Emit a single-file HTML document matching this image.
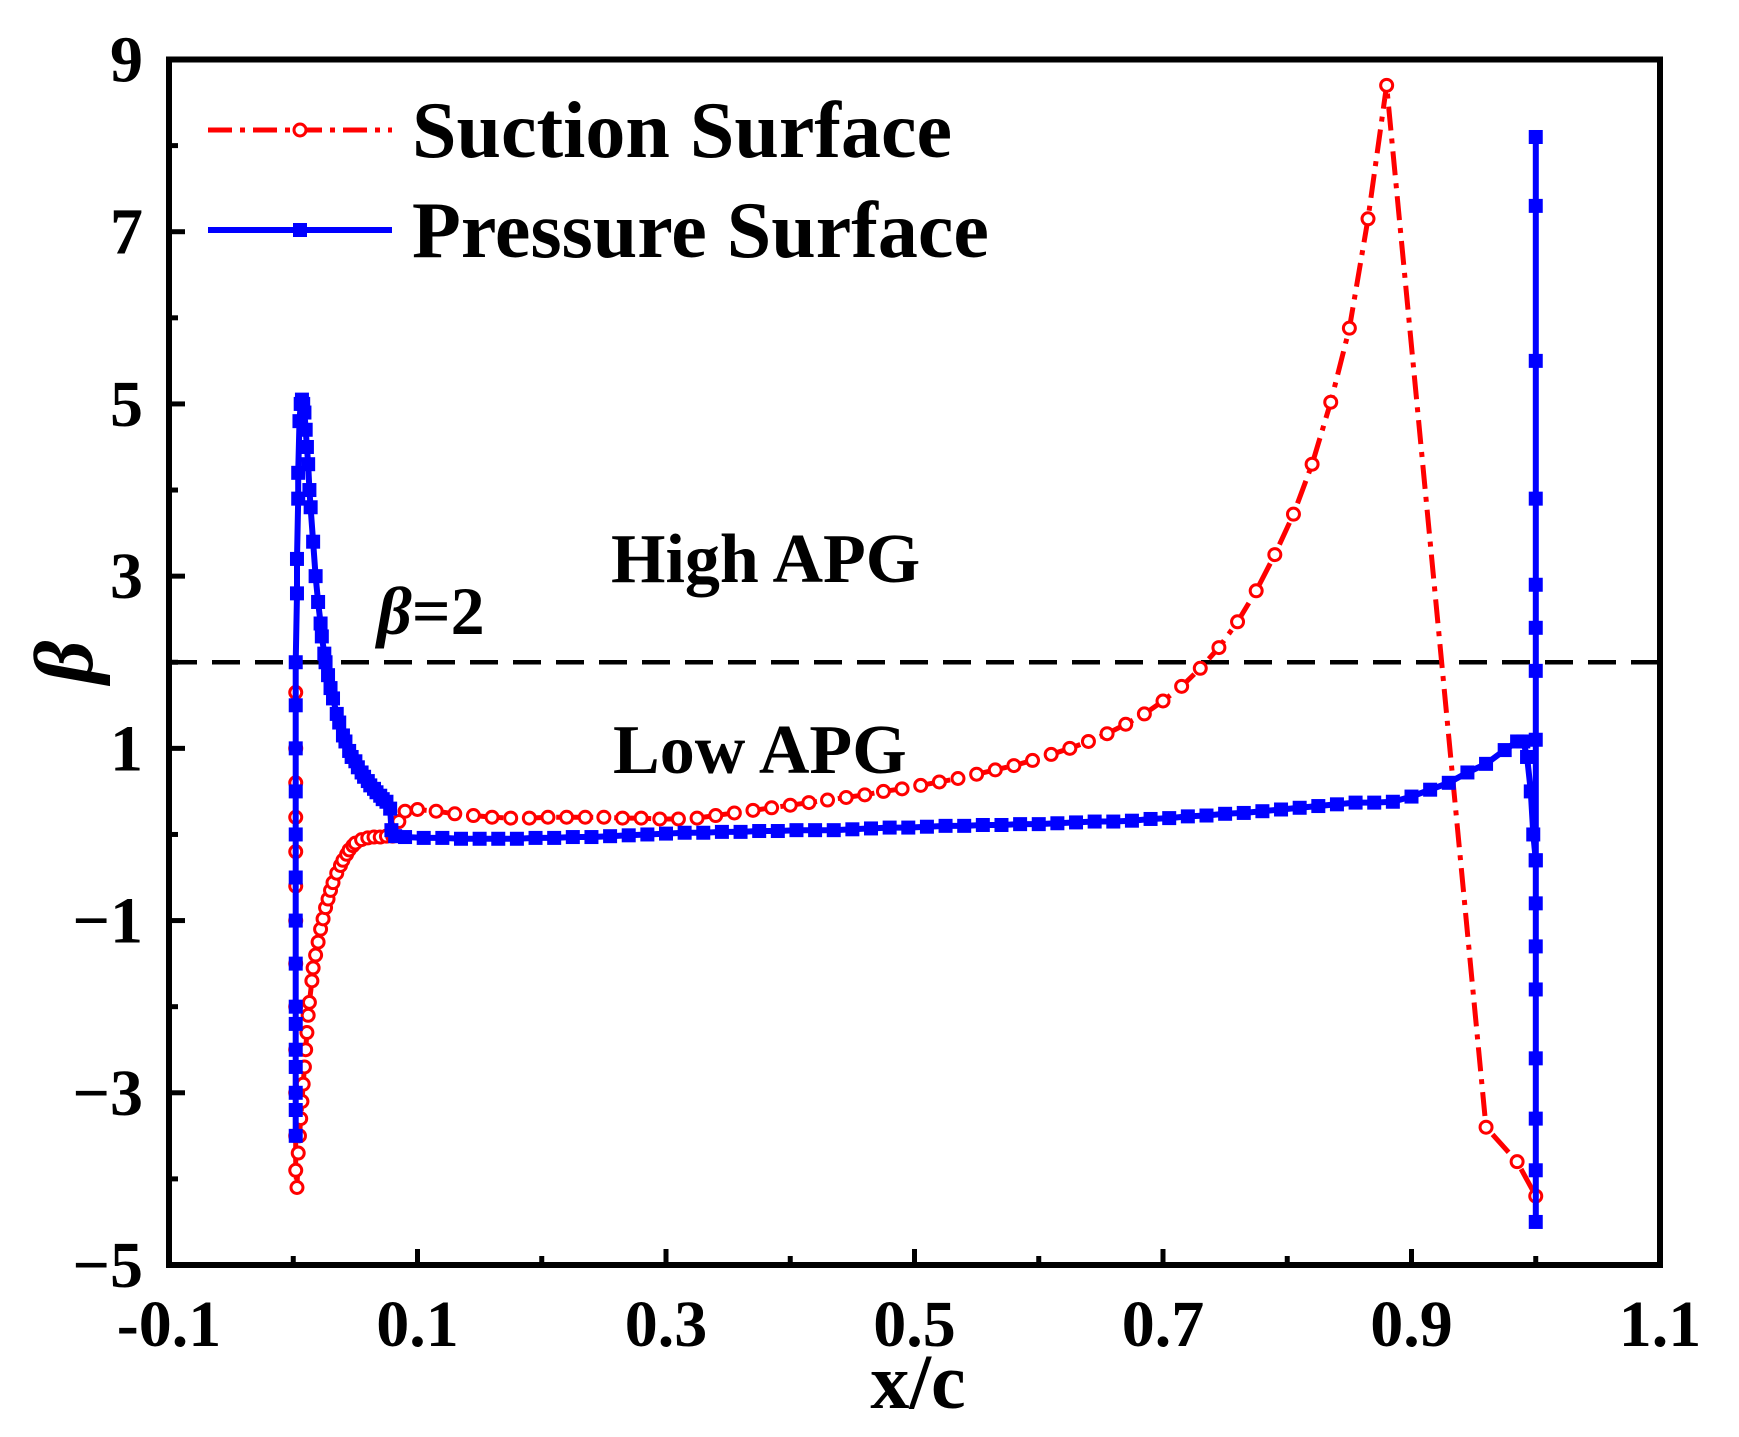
<!DOCTYPE html>
<html><head><meta charset="utf-8"><style>
html,body{margin:0;padding:0;background:#fff}
svg{display:block}
text{font-family:"Liberation Serif",serif;font-weight:bold;fill:#000}
</style></head><body>
<svg id="chart" width="1739" height="1437" viewBox="0 0 1739 1437" xmlns="http://www.w3.org/2000/svg">
<g id="grid"></g>
<g id="series"></g>
<g id="axes"></g>
</svg>
<script>
const xTicks=[-0.1,0.1,0.3,0.5,0.7,0.9,1.1];
const xTickLabels=["-0.1","0.1","0.3","0.5","0.7","0.9","1.1"];
const xMinorTicks=[0.0,0.2,0.4,0.6,0.8,1.0];
const yTicks=[9,7,5,3,1,-1,-3,-5];
const yTickLabels=["9","7","5","3","1","\u22121","\u22123","\u22125"];
const yMinorTicks=[8,6,4,2,0,-2,-4];
const thresholdBeta=2;

const suctionX=[0.002,0.002,0.002,0.002,0.002,0.002,0.002,0.002,0.002,0.002,0.002,0.002,0.002,0.003,0.004,0.005,0.006,0.007,0.008,0.009,0.01,0.011,0.012,0.013,0.015,0.016,0.018,0.02,0.022,0.024,0.026,0.028,0.03,0.032,0.035,0.038,0.04,0.043,0.045,0.048,0.05,0.055,0.06,0.065,0.07,0.075,0.08,0.085,0.09,
0.1,0.115,0.13,0.145,0.16,0.175,0.19,0.205,0.22,0.235,0.25,0.265,0.28,0.295,0.31,0.325,0.34,0.355,0.37,0.385,0.4,0.415,0.43,0.445,0.46,0.475,0.49,0.505,0.52,0.535,0.55,0.565,0.58,0.595,0.61,0.625,0.64,0.655,0.67,0.685,0.7,0.715,0.73,0.745,0.76,0.775,0.79,0.805,0.82,0.835,0.85,0.865,0.88,0.96,0.985,1.0];
const suctionY=[1.65,1.0,0.6,0.2,-0.2,-0.6,-1.0,-1.5,-2.0,-2.5,-3.0,-3.5,-3.9,-4.1,-3.7,-3.5,-3.3,-3.1,-2.9,-2.7,-2.5,-2.3,-2.1,-1.95,-1.7,-1.55,-1.4,-1.25,-1.1,-0.98,-0.85,-0.75,-0.65,-0.56,-0.45,-0.36,-0.3,-0.23,-0.18,-0.13,-0.1,-0.06,-0.04,-0.03,-0.03,-0.02,-0.02,0.15,0.27,
0.29,0.27,0.24,0.22,0.2,0.19,0.19,0.2,0.2,0.2,0.2,0.19,0.19,0.18,0.18,0.19,0.22,0.25,0.28,0.31,0.34,0.37,0.4,0.43,0.46,0.5,0.53,0.57,0.61,0.65,0.7,0.75,0.8,0.86,0.93,1.0,1.08,1.17,1.28,1.4,1.55,1.72,1.93,2.17,2.47,2.83,3.25,3.72,4.3,5.02,5.88,7.15,8.7,-3.4,-3.8,-4.2];

const pressureX=[0.002,0.002,0.002,0.002,0.002,0.002,0.002,0.002,0.002,0.002,0.002,0.002,0.002,0.002,0.002,0.003,0.003,0.004,0.004,0.005,0.006,0.007,0.008,0.009,0.01,0.011,0.012,0.013,0.014,0.016,0.018,0.02,0.022,0.023,0.025,0.026,0.028,0.03,0.032,0.035,0.037,0.04,0.042,0.045,0.047,0.05,0.052,0.055,0.057,0.06,0.062,0.065,0.067,0.07,0.072,0.075,0.078,0.079,0.082,
0.09,0.105,0.12,0.135,0.15,0.165,0.18,0.195,0.21,0.225,0.24,0.255,0.27,0.285,0.3,0.315,0.33,0.345,0.36,0.375,0.39,0.405,0.42,0.435,0.45,0.465,0.48,0.495,0.51,0.525,0.54,0.555,0.57,0.585,0.6,0.615,0.63,0.645,0.66,0.675,0.69,0.705,0.72,0.735,0.75,0.765,0.78,0.795,0.81,0.825,0.84,0.855,0.87,0.885,0.9,0.915,0.93,0.945,0.96,0.975,
0.985,0.99,0.993,0.996,0.998,1.0,1.0,1.0,1.0,1.0,1.0,1.0,1.0,1.0,1.0,1.0,1.0,1.0,1.0,1.0,1.0,1.0];
const pressureY=[-3.5,-3.2,-3.0,-2.7,-2.5,-2.2,-2.0,-1.5,-1.0,-0.5,0.0,0.5,1.0,1.5,2.0,2.8,3.2,3.9,4.2,4.8,5.0,5.05,5.0,4.9,4.7,4.5,4.3,4.0,3.8,3.4,3.0,2.7,2.45,2.3,2.1,2.0,1.85,1.7,1.58,1.4,1.3,1.15,1.08,0.97,0.9,0.85,0.78,0.72,0.67,0.62,0.57,0.53,0.49,0.45,0.41,0.38,0.3,0.05,-0.02,
-0.03,-0.04,-0.04,-0.05,-0.05,-0.05,-0.05,-0.04,-0.04,-0.03,-0.03,-0.02,-0.01,0.0,0.01,0.02,0.02,0.03,0.03,0.04,0.04,0.05,0.05,0.05,0.06,0.07,0.08,0.08,0.09,0.1,0.1,0.11,0.11,0.12,0.12,0.13,0.14,0.15,0.15,0.16,0.18,0.19,0.21,0.22,0.24,0.25,0.27,0.29,0.31,0.33,0.35,0.37,0.37,0.38,0.44,0.52,0.6,0.72,0.82,0.98,
1.08,1.08,0.9,0.5,0.0,-0.3,8.1,7.3,5.5,3.9,2.9,2.4,1.9,1.1,-0.3,-0.8,-1.3,-1.8,-2.6,-3.3,-3.9,-4.5];

const NS="http://www.w3.org/2000/svg";
const L=169,R=1660,T=59.5,B=1265;
const xMin=-0.1,xMax=1.1,yMin=-5,yMax=9;
function sx(v){return L+(v-xMin)/(xMax-xMin)*(R-L);}
function sy(v){return B-(v-yMin)/(yMax-yMin)*(B-T);}
function mk(tag,attrs,parent){const e=document.createElementNS(NS,tag);for(const k in attrs)e.setAttribute(k,attrs[k]);parent.appendChild(e);return e;}
const axes=document.getElementById('axes'),series=document.getElementById('series'),grid=document.getElementById('grid');

let th=mk('line',{x1:L,x2:R,y1:sy(thresholdBeta),y2:sy(thresholdBeta),stroke:'#000','stroke-width':4.5,'stroke-dasharray':'28,15'},grid);



let sp=suctionX.map((x,i)=>sx(x).toFixed(1)+','+sy(suctionY[i]).toFixed(1)).join(' ');
let sl=mk('polyline',{points:sp,fill:'none',stroke:'#ff0000','stroke-width':5,'stroke-dasharray':'24,8,5,8','stroke-linejoin':'round'},series);


suctionX.forEach((x,i)=>{
  const c=mk('circle',{cx:sx(x),cy:sy(suctionY[i]),r:6,fill:'#fff',stroke:'#ff0000','stroke-width':3},series);
  
  
});
let pp=pressureX.map((x,i)=>sx(x).toFixed(1)+','+sy(pressureY[i]).toFixed(1)).join(' ');
let pl=mk('polyline',{points:pp,fill:'none',stroke:'#0000ff','stroke-width':6,'stroke-linejoin':'round'},series);


pressureX.forEach((x,i)=>{
  const r=mk('rect',{x:sx(x)-7,y:sy(pressureY[i])-7,width:14,height:14,fill:'#0000ff'},series);
  
  
});

let fr=mk('rect',{x:L,y:T,width:R-L,height:B-T,fill:'none',stroke:'#000','stroke-width':6},axes);


xTicks.forEach((v,i)=>{
  const t=mk('line',{x1:sx(v),x2:sx(v),y1:B,y2:B-16,stroke:'#000','stroke-width':5},axes);
  
  
  const lb=mk('text',{x:sx(v),y:1346,'font-size':66,'text-anchor':'middle'},axes);
  lb.textContent=xTickLabels[i];
  
  
});
xMinorTicks.forEach(v=>{
  const t=mk('line',{x1:sx(v),x2:sx(v),y1:B,y2:B-9,stroke:'#000','stroke-width':5},axes);
  
  
});
yTicks.forEach((v,i)=>{
  const t=mk('line',{x1:L,x2:L+16,y1:sy(v),y2:sy(v),stroke:'#000','stroke-width':5},axes);
  
  
  const lb=mk('text',{x:143,y:sy(v)+22,'font-size':66,'text-anchor':'end'},axes);
  lb.textContent=yTickLabels[i];
  
  
});
yMinorTicks.forEach(v=>{
  const t=mk('line',{x1:L,x2:L+9,y1:sy(v),y2:sy(v),stroke:'#000','stroke-width':5},axes);
  
  
});
</script>
<script>
(function(){
const NS="http://www.w3.org/2000/svg";
const svg=document.getElementById('chart');
function txt(s,attrs,name){const e=document.createElementNS(NS,'text');for(const k in attrs)e.setAttribute(k,attrs[k]);e.textContent=s;svg.appendChild(e);


return e;}
txt('x/c',{x:918,y:1408,'font-size':78,'text-anchor':'middle'},'x-axis-title');
txt('\u03B2',{x:0,y:0,'font-size':84,'font-style':'italic',transform:'translate(92,662) rotate(-90)','text-anchor':'middle'},'y-axis-title');
const b=txt('',{x:377,y:634,'font-size':68},'beta-2-label');
b.innerHTML='<tspan font-style="italic">\u03B2</tspan>=2';
txt('High APG',{x:611,y:582,'font-size':70},'high-apg-label');
txt('Low APG',{x:613,y:773,'font-size':70},'low-apg-label');
const g=document.createElementNS(NS,'g');svg.appendChild(g);


g.innerHTML='<line x1="208" x2="392" y1="130" y2="130" stroke="#ff0000" stroke-width="5" stroke-dasharray="24,8,5,8"/><circle cx="300" cy="130" r="6" fill="#fff" stroke="#ff0000" stroke-width="3"/>'+
'<text x="412" y="157" font-size="80">Suction Surface</text>'+
'<line x1="208" x2="392" y1="230" y2="230" stroke="#0000ff" stroke-width="6"/><rect x="293" y="223" width="14" height="14" fill="#0000ff"/>'+
'<text x="412" y="257" font-size="80">Pressure Surface</text>';
})();
</script>
</body></html>
